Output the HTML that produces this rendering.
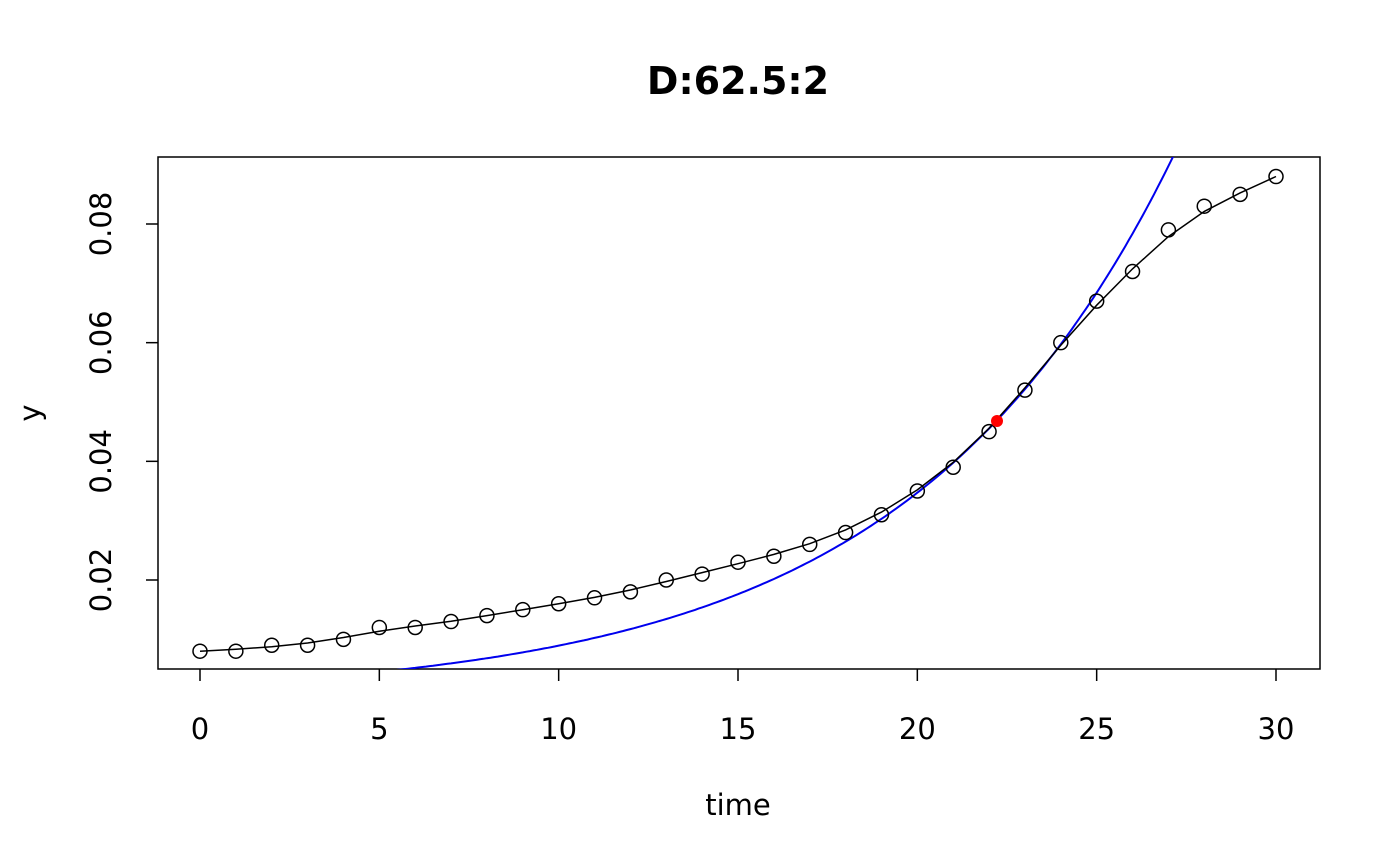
<!DOCTYPE html>
<html><head><meta charset="utf-8"><style>
html,body{margin:0;padding:0;background:#fff;}
svg{display:block;font-family:"DejaVu Sans","Liberation Sans",sans-serif;}
</style></head><body>
<svg id="s" width="1400" height="866" xmlns="http://www.w3.org/2000/svg">
<text x="738" y="94" font-size="38" font-weight="bold" text-anchor="middle">D:62.5:2</text>
<rect x="158" y="157" width="1162" height="512" fill="none" stroke="#000" stroke-width="1.5"/>
<g id="xt" font-size="29" text-anchor="middle"></g>
<g id="yt" font-size="29" text-anchor="middle"></g>
<text x="738" y="815" font-size="29" text-anchor="middle">time</text>
<text transform="translate(40,413) rotate(-90)" font-size="29" text-anchor="middle">y</text>
<defs><clipPath id="c"><rect x="158" y="157" width="1162" height="512"/></clipPath></defs>
<path id="blue" fill="none" stroke="#0000ee" stroke-width="2" clip-path="url(#c)"/>
<path id="blk" fill="none" stroke="#000" stroke-width="1.5"/>
<g id="pts" fill="none" stroke="#000" stroke-width="1.5"></g>
<circle cx="997" cy="421" r="6" fill="#ff0000"/>
</svg>
<script>
var NS="http://www.w3.org/2000/svg";
function X(t){return 200+t*1076/30;}
function Y(v){return 580-(v-0.02)*5933.3;}
function el(p,n,a,txt){var e=document.createElementNS(NS,n);for(var k in a)e.setAttribute(k,a[k]);if(txt)e.textContent=txt;document.getElementById(p).appendChild(e);}
for(var t=0;t<=30;t+=5){el("xt","line",{x1:X(t),x2:X(t),y1:669,y2:681,stroke:"#000","stroke-width":1.5});el("xt","text",{x:X(t),y:739},String(t));}
var yl=["0.02","0.04","0.06","0.08"];
for(var i=0;i<4;i++){var v=0.02*(i+1),y=Y(v);el("yt","line",{x1:146,x2:158,y1:y,y2:y,stroke:"#000","stroke-width":1.5});el("yt","text",{transform:"translate(111,"+y+") rotate(-90)"},yl[i]);}
var d=[0.008,0.008,0.009,0.009,0.010,0.012,0.012,0.013,0.014,0.015,0.016,0.017,0.018,0.020,0.021,0.023,0.024,0.026,0.028,0.031,0.035,0.039,0.045,0.052,0.060,0.067,0.072,0.079,0.083,0.085,0.088];
var sm=d.slice();
for(var k=0;k<2;k++){var n=sm.slice();for(var i=1;i<30;i++)n[i]=(sm[i-1]+2*sm[i]+sm[i+1])/4;sm=n;}
var p="";
for(var i=0;i<=30;i++){p+=(i?"L":"M")+X(i).toFixed(1)+","+Y(sm[i]).toFixed(1);el("pts","circle",{cx:X(i),cy:Y(d[i]),r:7});}
document.getElementById("blk").setAttribute("d",p);
var b="";
for(var t=5;t<=28;t+=0.1){var v=0.005*Math.exp(0.1357*(t-5.72));b+=(b?"L":"M")+X(t).toFixed(1)+","+Y(v).toFixed(1);}
document.getElementById("blue").setAttribute("d",b);
</script>
</body></html>
